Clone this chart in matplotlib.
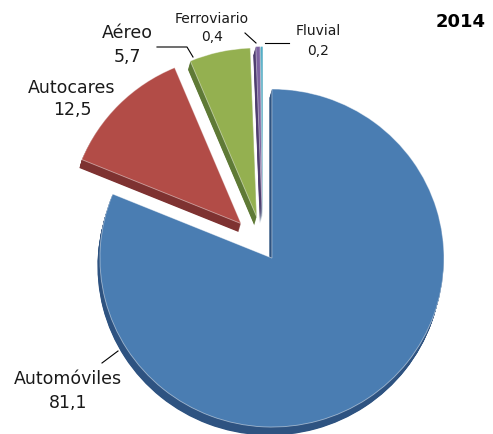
import matplotlib
matplotlib.use('Agg')
import matplotlib.pyplot as plt
from matplotlib.lines import Line2D

# data
labels = ["Automóviles", "Autocares", "Aéreo", "Ferroviario", "Fluvial"]
values = [81.1, 12.5, 5.7, 0.4, 0.2]
value_text = ["81,1", "12,5", "5,7", "0,4", "0,2"]
year = "2014"

top_colors = ["#4A7DB2", "#B24C47", "#94B050", "#7C62A0", "#46A9C4"]
side_colors = ["#2E5381", "#7E3231", "#5F7A36", "#4E3D6F", "#2C778B"]
explode = [0.093, 0.18, 0.17, 0.175, 0.175]

W, H = 493, 434
CX, CY = 263, 245      # pie centre, pixels
RX, RY = 172, 169      # radius, pixels


def fx(x):
    return x / W


def fy(y):
    return 1 - y / H


fig = plt.figure(figsize=(W / 100, H / 100), dpi=100)
ax = fig.add_axes([0, 0, 1, 1])

# extruded side of the 3d pie
depth_x, depth_y = -0.014, -0.05
steps = 14
for k in range(steps, 0, -1):
    f = k / steps
    ax.pie(values, colors=side_colors, explode=explode, startangle=90,
           counterclock=False, center=(depth_x * f, depth_y * f),
           wedgeprops=dict(linewidth=0))

# top face
wedges, _ = ax.pie(values, colors=top_colors, explode=explode, startangle=90,
                   counterclock=False,
                   wedgeprops=dict(linewidth=0.6, edgecolor='#FFFFFF80'))

ax.set_aspect('auto')
ax.set_xlim(-CX / RX, (W - CX) / RX)
ax.set_ylim(-(H - CY) / RY, CY / RY)
ax.axis('off')

font = 'DejaVu Sans'
big = 12.5
small = 10

# label positions (pixels), font sizes, line spacing
lab_pos = [(68, 391), (72, 99), (127, 45), (212, 28), (318, 41)]
lab_size = [big, big, big, small, small]
lab_spacing = [1.5, 1.35, 1.45, 1.45, 1.5]
for name, val, (x, y), s, ls in zip(labels, value_text, lab_pos, lab_size,
                                    lab_spacing):
    fig.text(fx(x), fy(y), name + "\n" + val, ha='center', va='center',
             fontsize=s, family=font, linespacing=ls, color='#1a1a1a')

# leader lines
leaders = [
    [(102, 363), (118, 351)],
    [(157, 47), (187, 47), (193, 57)],
    [(245, 33), (256, 43)],
    [(265, 43), (289, 43)],
]
for pts in leaders:
    xs = [fx(p[0]) for p in pts]
    ys = [fy(p[1]) for p in pts]
    fig.add_artist(Line2D(xs, ys, transform=fig.transFigure,
                          color='black', lw=0.8))

fig.text(fx(461), fy(22), year, ha='center', va='center', fontsize=13,
         family='DejaVu Sans', fontweight='heavy')

fig.savefig('out.png', dpi=100)
